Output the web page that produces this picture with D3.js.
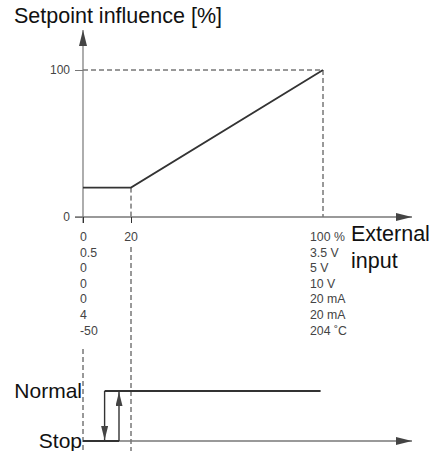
<!DOCTYPE html>
<html><head><meta charset="utf-8">
<script src="https://cdn.jsdelivr.net/npm/d3@7"></script>
<style>body{margin:0;background:#fff}svg{display:block;font-family:"Liberation Sans",Arial,sans-serif}</style>
</head><body>
<script>
const xTicks = [0, 20, 100];
const yTicks = [0, 100];
const curveX = [0, 20, 100];
const curveY = [20, 20, 100];
const rowsLeft = ["0", "0.5", "0", "0", "0", "4", "-50"];
const rowsMid = ["20"];
const rowsRight = ["100 %", "3.5 V", "5 V", "10 V", "20 mA", "20 mA", "204 ˚C"];
const switchOff = 9;   // Normal -> Stop
const switchOn = 15;   // Stop -> Normal
const normalEnd = 99;
const stateLabels = ["Normal", "Stop"];

const W = 435, H = 451;
const svg = d3.select("body").append("svg").attr("width", W).attr("height", H);
const x = d3.scaleLinear().domain([0, 100]).range([83, 323]);
const y = d3.scaleLinear().domain([0, 100]).range([217, 70]);
const s = d3.scaleOrdinal().domain(stateLabels).range([391, 441]);
const axisCol = "#777", dark = "#333";

const defs = svg.append("defs");
defs.append("marker").attr("id","ah").attr("viewBox","0 0 16 8").attr("refX",16).attr("refY",4)
  .attr("markerWidth",16).attr("markerHeight",8).attr("markerUnits","userSpaceOnUse").attr("orient","auto")
  .append("path").attr("d","M0,0L16,4L0,8Z").attr("fill","#444");
defs.append("marker").attr("id","ah2").attr("viewBox","0 0 14 7").attr("refX",14).attr("refY",3.5)
  .attr("markerWidth",14).attr("markerHeight",7).attr("markerUnits","userSpaceOnUse").attr("orient","auto")
  .append("path").attr("d","M0,0L14,3.5L0,7Z").attr("fill","#444");

// title
svg.append("text").attr("x", 14).attr("y", 23).attr("font-size", 21.5).attr("fill","#111").text("Setpoint influence [%]");

// dashed guides
const dash = "5,3";
svg.append("line").attr("x1", x(0)).attr("x2", x(100)).attr("y1", y(100)).attr("y2", y(100)).attr("stroke", dark).attr("stroke-dasharray", dash);
svg.append("line").attr("x1", x(100)).attr("x2", x(100)).attr("y1", y(100)).attr("y2", y(0)).attr("stroke", dark).attr("stroke-dasharray", dash);
svg.append("line").attr("x1", x(20)).attr("x2", x(20)).attr("y1", y(20)).attr("y2", y(0)).attr("stroke", dark).attr("stroke-dasharray", dash);
svg.append("line").attr("x1", x(20)).attr("x2", x(20)).attr("y1", 247).attr("y2", H).attr("stroke", dark).attr("stroke-dasharray", dash);
svg.append("line").attr("x1", x(0)).attr("x2", x(0)).attr("y1", 349).attr("y2", H).attr("stroke", dark).attr("stroke-dasharray", dash);

// axes
svg.append("line").attr("x1", x(0)).attr("x2", x(0)).attr("y1", y(0)+6).attr("y2", 30).attr("stroke", axisCol).attr("stroke-width",1.2).attr("marker-end","url(#ah)");
svg.append("line").attr("x1", x(0)-8).attr("x2", 412).attr("y1", y(0)).attr("y2", y(0)).attr("stroke", axisCol).attr("stroke-width",1.5).attr("marker-end","url(#ah)");

const ya = svg.append("g").attr("transform", `translate(${x(0)},0)`)
  .call(d3.axisLeft(y).tickValues(yTicks).tickSize(8).tickPadding(5).tickFormat(d3.format("d")));
ya.select(".domain").remove();
ya.selectAll(".tick line").attr("stroke", axisCol);
ya.selectAll("text").attr("font-size", 12).attr("fill", "#444").attr("font-family", "Liberation Sans, Arial, sans-serif");

const xa = svg.append("g").attr("transform", `translate(0,${y(0)})`)
  .call(d3.axisBottom(x).tickValues(xTicks.slice(0,2)).tickSize(6).tickFormat(""));
xa.select(".domain").remove();
xa.selectAll(".tick line").attr("stroke", dark);

// curve
svg.append("path").datum(curveX.map((d,i)=>[d, curveY[i]]))
  .attr("d", d3.line().x(d=>x(d[0])).y(d=>y(d[1])))
  .attr("fill","none").attr("stroke", dark).attr("stroke-width", 1.8);

// input rows
const rowY = i => 241 + i*15.6;
const lab = (arr, xx, anchor) => svg.append("g").selectAll("text").data(arr).join("text")
  .attr("x", xx).attr("y", (d,i)=>rowY(i)).attr("text-anchor", anchor)
  .attr("font-size", 12.3).attr("fill", "#444").text(d=>d);
lab(rowsLeft, x(xTicks[0]) - 3, "start");
lab(rowsMid, x(xTicks[1]), "middle");
lab(rowsRight, x(xTicks[2]) - 13, "start");
svg.append("text").attr("x", 351).attr("y", 241).attr("font-size", 21.5).attr("fill","#111").text("External");
svg.append("text").attr("x", 351).attr("y", 268).attr("font-size", 21.5).attr("fill","#111").text("input");

// bottom switch diagram
svg.append("line").attr("x1", x(0)).attr("x2", 412).attr("y1", s("Stop")).attr("y2", s("Stop")).attr("stroke", axisCol).attr("stroke-width",1.5).attr("marker-end","url(#ah)");
svg.append("line").attr("x1", x(0)).attr("x2", x(switchOn)).attr("y1", s("Stop")).attr("y2", s("Stop")).attr("stroke", dark).attr("stroke-width",1.8);
svg.append("line").attr("x1", x(switchOff)).attr("x2", x(normalEnd)).attr("y1", s("Normal")).attr("y2", s("Normal")).attr("stroke", dark).attr("stroke-width",1.8);
svg.append("line").attr("x1", x(switchOff)).attr("x2", x(switchOff)).attr("y1", s("Normal")).attr("y2", s("Stop")-1).attr("stroke", dark).attr("stroke-width",1.4).attr("marker-end","url(#ah2)");
svg.append("line").attr("x1", x(switchOn)).attr("x2", x(switchOn)).attr("y1", s("Stop")).attr("y2", s("Normal")+1).attr("stroke", dark).attr("stroke-width",1.4).attr("marker-end","url(#ah2)");
svg.selectAll("text.state").data(stateLabels).join("text").attr("class","state")
  .attr("x", x(0)-1).attr("y", d=>s(d)+7).attr("text-anchor","end").attr("font-size", 21).attr("fill","#111").text(d=>d);
</script>
</body></html>
